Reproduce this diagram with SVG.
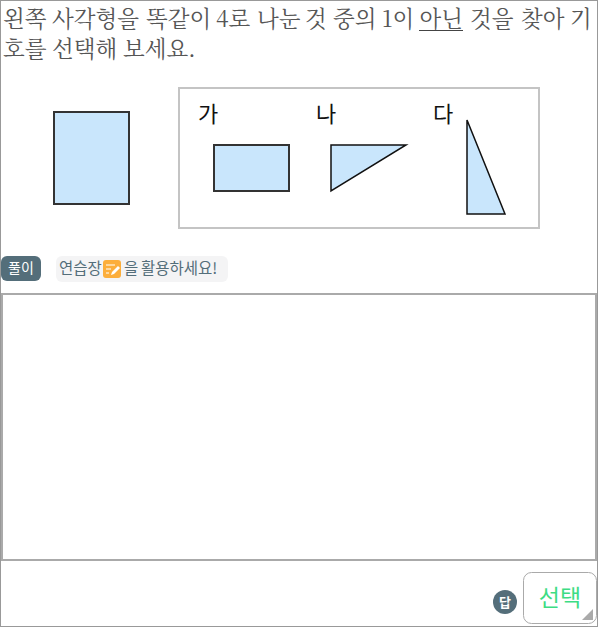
<svg xmlns="http://www.w3.org/2000/svg" width="598" height="627" viewBox="0 0 598 627">
<style>
.q{font-family:"Noto Serif CJK KR","Liberation Serif","Noto Sans CJK KR",serif;font-size:22.500px;fill:#555}
.l{font-family:"Noto Sans CJK KR",sans-serif;font-size:22px;fill:#111}
.s{fill:#c9e6fc;stroke:#333;stroke-width:2}
.t{fill:#c9e6fc;stroke:#111;stroke-width:1.5}
.u{font-family:"Noto Sans CJK KR",sans-serif}
</style>
<rect width="598" height="627" fill="#fff"/>
<rect x="0.5" y="0.5" width="597" height="626" fill="none" stroke="#999"/>
<text class="q" y="27"><tspan x="3">왼쪽</tspan> <tspan x="52">사각형을</tspan> <tspan x="146">똑같이</tspan> <tspan x="216">4로</tspan> <tspan x="257">나눈</tspan> <tspan x="305">것</tspan> <tspan x="333">중의</tspan> <tspan x="382">1이</tspan> <tspan x="419.500">아닌</tspan> <tspan x="470">것을</tspan> <tspan x="521">찾아</tspan> <tspan x="570">기</tspan></text>
<text class="q" y="57"><tspan x="3">호를</tspan> <tspan x="52">선택해</tspan> <tspan x="123">보세요.</tspan></text>
<line x1="419" y1="30.500" x2="463" y2="30.500" stroke="#444" stroke-width="1"/>
<rect id="left-rect" class="s" x="54" y="112" width="75" height="92"/>
<rect x="179" y="88" width="360" height="140" fill="#fff" stroke="#c4c4c4" stroke-width="2"/>
<g id="ga"><text class="l" x="198" y="122">가</text><rect class="s" x="214" y="145" width="75" height="46"/></g>
<g id="na"><text class="l" x="316" y="122">나</text><polygon class="t" points="331,145 406,145 331,191"/></g>
<g id="da"><text class="l" x="433" y="122">다</text><polygon class="t" points="467,120 467,214 505,214"/></g>
<g id="hint">
<rect x="1" y="256" width="40" height="25" rx="6" fill="#546e7a"/>
<text class="u" x="21" y="273" font-size="14" fill="#fff" text-anchor="middle">풀이</text>
<rect x="56" y="256" width="172" height="26" rx="6" fill="#f4f4f5"/>
<text class="u" x="59" y="274" font-size="15.500" fill="#546e7a">연습장</text>
<rect x="103" y="260" width="18" height="18" rx="3" fill="#fcae3b"/>
<path d="M106 265h9M106 269h5M106 273h3" stroke="#fff" stroke-width="1.2" fill="none"/>
<path d="M111 275l1-3 6-6 2 2-6 6z" fill="#fff"/>
<text class="u" y="274" font-size="15.500" fill="#546e7a"><tspan x="124">을</tspan> <tspan x="141">활용하세요!</tspan></text>
</g>
<rect x="2" y="294" width="594" height="266" fill="#fff" stroke="#aaa" stroke-width="2"/>
<g id="answer">
<circle cx="505" cy="602" r="12" fill="#546e7a"/>
<text class="u" x="505" y="607" font-size="13" font-weight="700" fill="#fff" text-anchor="middle">답</text>
<rect x="523.500" y="572.500" width="73" height="51" rx="8" fill="#fff" stroke="#aaa"/>
<text class="u" x="560" y="606" font-size="23" fill="#3ddc84" text-anchor="middle">선택</text>
<polygon points="593,609 593,620 582,620" fill="#aaa"/>
</g>
</svg>
